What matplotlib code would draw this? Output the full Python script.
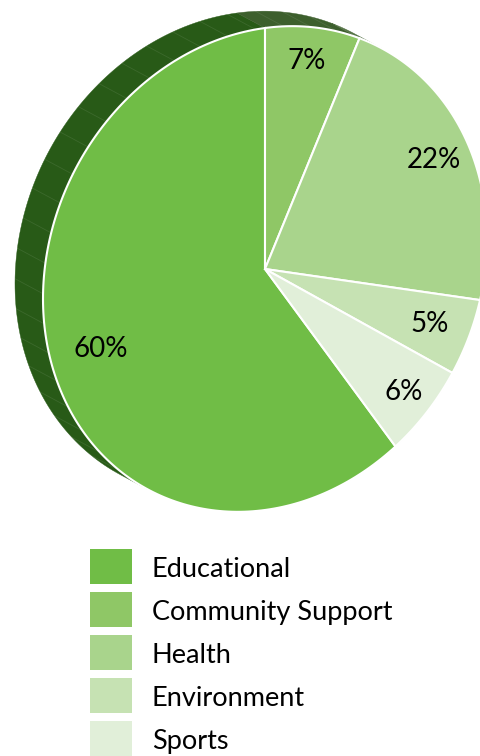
import numpy as np
import matplotlib
matplotlib.use("Agg")
import matplotlib.pyplot as plt
from matplotlib.patches import Polygon, Rectangle

# ---- data -------------------------------------------------------------
categories = ["Educational", "Community Support", "Health", "Environment", "Sports"]
shares = [60, 7, 22, 5, 6]
pct_labels = ["60%", "7%", "22%", "5%", "6%"]

# ---- styling ----------------------------------------------------------
face_colors = ["#70bd46", "#8fc766", "#a9d48c", "#c6e2b3", "#e1efd9"]
side_colors = ["#285a17", "#3d5f2d", "#4b6b3b", "#5a7a4a", "#6a8a5a"]
label_radius = [0.78, 0.86, 0.84, 0.81, 0.86]
FONT = ["Lato", "DejaVu Sans"]

W, H = 481, 756
fig = plt.figure(figsize=(W / 100, H / 100), dpi=100)
ax = fig.add_axes([0, 0, 1, 1])
ax.set_xlim(0, W)
ax.set_ylim(H, 0)
ax.axis("off")

# Tilted view of the disc: unit circle -> screen pixels, plus extrusion depth
CX, CY = 265.0, 269.0
A_X, B_Y, C_Y = 222.0, 29.8, 241.0
DEPTH = np.array([-28.0, 15.0])  # (dx, dy upward) of the back face


def project(theta_deg, r=1.0, depth=0.0):
    t = np.radians(theta_deg)
    u, v = r * np.cos(t), r * np.sin(t)
    x = CX + A_X * u + depth * DEPTH[0]
    y = CY - (B_Y * u + C_Y * v) - depth * DEPTH[1]
    return np.column_stack([np.atleast_1d(x), np.atleast_1d(y)])


# Slice angles: drawn clockwise, the first slice closing at twelve o'clock
sweep = 3.6 * np.array(shares, dtype=float)
start = 90.0 + sweep[0]
ends = start - np.cumsum(sweep)
starts = ends + sweep  # each slice spans [end, start] counter-clockwise

# Silhouette of the side wall: where the rim tangent runs along the depth axis
t_side = np.degrees(np.arctan(C_Y * DEPTH[0] / (-A_X * DEPTH[1] + B_Y * DEPTH[0])))
side_lo, side_hi = t_side, t_side + 180.0


def ccw_interval(lo, hi):
    lo = lo % 360.0
    hi = lo + ((hi - lo) % 360.0 or 360.0)
    return lo, hi


# side wall, one strip per slice
for lo, hi, col in zip(ends, starts, side_colors):
    a, b = ccw_interval(lo, hi)
    for shift in (-360.0, 0.0, 360.0):
        s0, s1 = max(a + shift, side_lo), min(b + shift, side_hi)
        if s1 > s0:
            th = np.linspace(s0, s1, 120)
            pts = np.vstack([project(th), project(th[::-1], depth=1.0)])
            ax.add_patch(Polygon(pts, closed=True, facecolor=col,
                                 edgecolor=col, lw=0.3, zorder=1))

# faint facet lines on the wall
for th in np.arange(6.0, 366.0, 7.2):
    th = th % 360.0
    if side_lo + 1 < th < side_hi - 1:
        seg = np.vstack([project(th), project(th, depth=1.0)])
        ax.plot(seg[:, 0], seg[:, 1], color="white", alpha=0.09, lw=0.6, zorder=2)

# front face wedges
for lo, hi, col in zip(ends, starts, face_colors):
    a, b = ccw_interval(lo, hi)
    th = np.linspace(a, b, 200)
    pts = np.vstack([[CX, CY], project(th)])
    ax.add_patch(Polygon(pts, closed=True, facecolor=col, edgecolor="white",
                         lw=1.5, joinstyle="miter", zorder=3))

# percentage labels
for lo, hi, txt, r in zip(ends, starts, pct_labels, label_radius):
    a, b = ccw_interval(lo, hi)
    px, py = project((a + b) / 2.0, r=r)[0]
    ax.text(px, py, txt, ha="center", va="center", fontsize=20,
            family=FONT, color="black", zorder=5)

# legend
box_w, box_h, row_step = 42, 35, 43
lx, ly = 90, 549
for i, (name, col) in enumerate(zip(categories, face_colors)):
    y0 = ly + i * row_step
    ax.add_patch(Rectangle((lx, y0), box_w, box_h, facecolor=col,
                           edgecolor="none", zorder=4))
    ax.text(lx + 62, y0 + box_h / 2 + 3, name, ha="left", va="center",
            fontsize=19.5, family=FONT, color="black", zorder=5)

fig.savefig("out.png", dpi=100)
